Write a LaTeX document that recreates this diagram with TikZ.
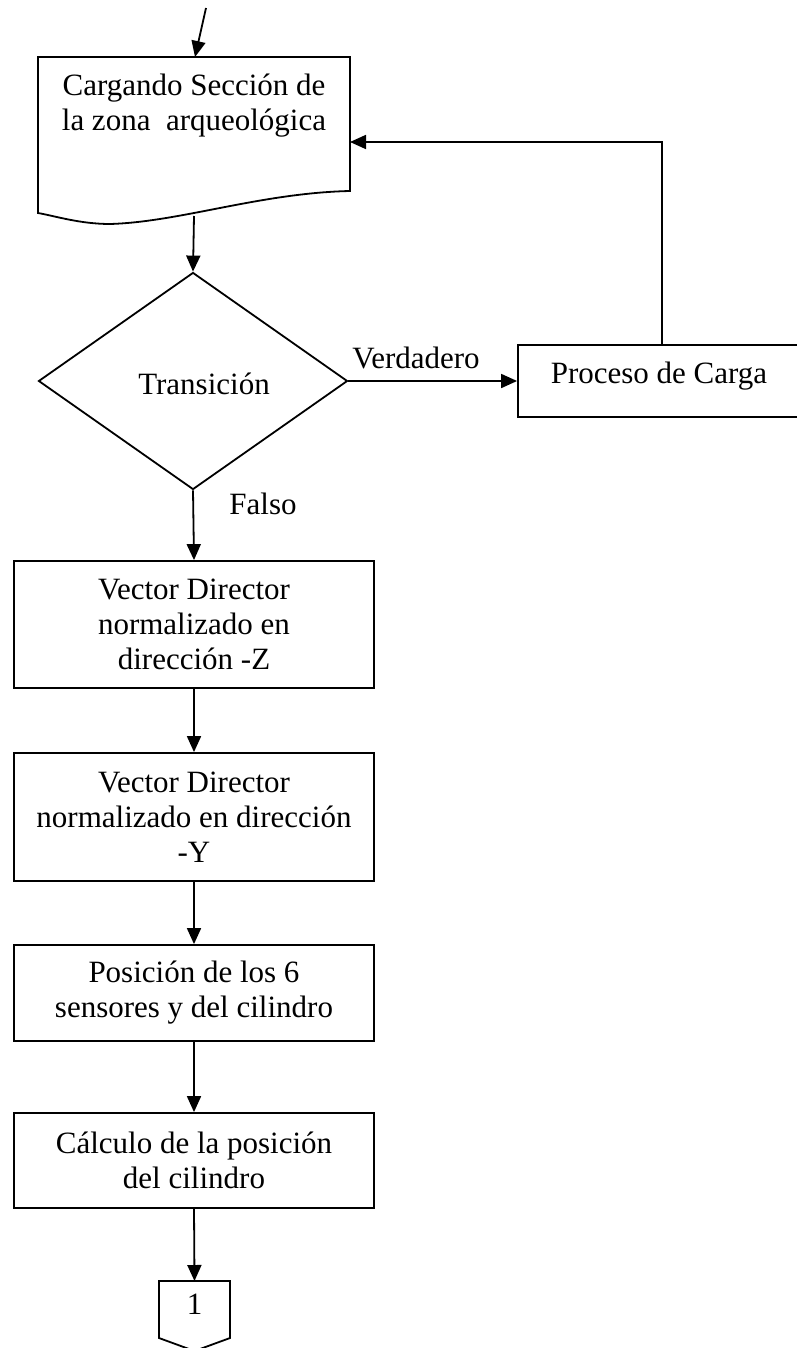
\documentclass[tikz,border=0pt]{standalone}
\usepackage{fontspec}
\setmainfont{Liberation Serif}
\usetikzlibrary{shapes.geometric,arrows.meta}
\begin{document}
\begin{tikzpicture}[x=1pt,y=-1pt,line width=1.8pt,
  txt/.style={font=\fontsize{31}{35}\selectfont},
  arr/.style={-{Triangle[length=16pt,width=14pt]}},
  box/.style={draw,txt,align=center,minimum width=360pt,inner sep=0pt}]
\useasboundingbox (0,0) rectangle (797,1348);
% document shape
\draw (38,57) -- (350,57) -- (350,191)
  .. controls (260,193) and (180,222) .. (110,224)
  .. controls (80,224) and (55,216) .. (38,213) -- cycle;
\node[txt,align=center] (doc) at (194,106) {Cargando Sección de\\la zona~ arqueológica};
\coordinate (docin) at (195,57);
\coordinate (docout) at (194,216);
\coordinate (docr) at (350,142);
\coordinate (start) at (206,8);
% decision
\node[draw,diamond,minimum width=309pt,minimum height=217pt,inner sep=0pt] (dec) at (193,381) {};
\node[txt] (dectxt) at (204,384) {Transición};
% process
\node[draw,txt,minimum width=282pt,minimum height=72pt,inner sep=0pt,text height=20pt,text depth=16pt] (proc) at (659,381) {Proceso de Carga};
% boxes
\node[box,minimum height=127pt] (b1) at (194,624.5) {Vector Director\\normalizado en\\dirección -Z};
\node[box,minimum height=128pt] (b2) at (194,817) {Vector Director\\normalizado en dirección\\-Y};
\node[box,minimum height=96pt] (b3) at (194,993) {Posición de los 6\\sensores y del cilindro};
\node[box,minimum height=95pt] (b4) at (194,1160.5) {Cálculo de la posición\\del cilindro};
% off-page connector
\draw (159,1281) -- (230,1281) -- (230,1338) -- (194.5,1351) -- (159,1338) -- cycle;
\coordinate (ctop) at (194.5,1281);
\node[txt] (c1) at (194.5,1304) {1};
% labels
\node[txt] (ver) at (416,358) {Verdadero};
\node[txt] (fal) at (263,504) {Falso};
% connectors
\draw[arr] (start) -- (docin);
\draw[arr] (docout) -- (dec.north);
\draw[arr] (dec.east) -- (proc.west);
\draw[arr] ([xshift=3pt]proc.north) |- (docr);
\draw[arr] (dec.south) -- (b1.north);
\draw[arr] (b1) -- (b2);
\draw[arr] (b2) -- (b3);
\draw[arr] (b3) -- (b4);
\draw[arr] (b4.south) -- (ctop);
\end{tikzpicture}
\end{document}
